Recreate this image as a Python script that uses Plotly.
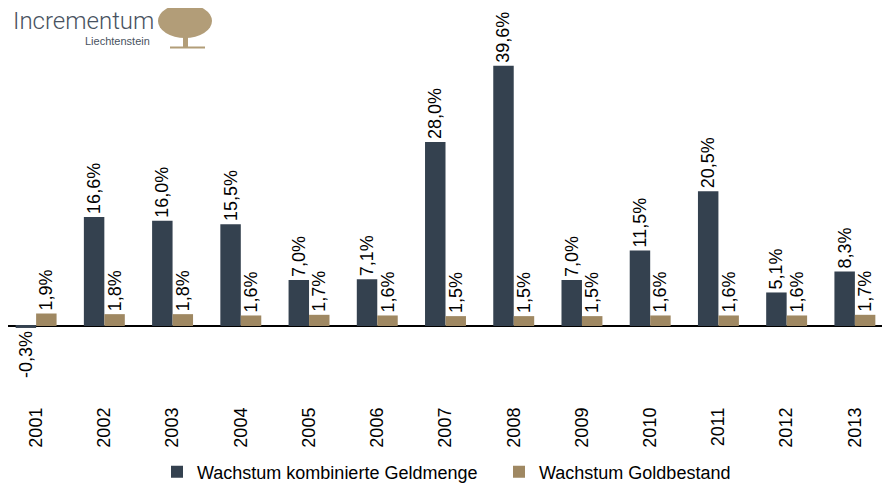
import plotly.graph_objects as go

years = ["2001", "2002", "2003", "2004", "2005", "2006", "2007",
         "2008", "2009", "2010", "2011", "2012", "2013"]
geldmenge = [-0.3, 16.6, 16.0, 15.5, 7.0, 7.1, 28.0, 39.6, 7.0, 11.5, 20.5, 5.1, 8.3]
goldbestand = [1.9, 1.8, 1.8, 1.6, 1.7, 1.6, 1.5, 1.5, 1.5, 1.6, 1.6, 1.6, 1.7]

DARK = "#34414F"
GOLD = "#9F8862"
FONT = "Liberation Sans, Arial, sans-serif"

# the page body has an 8px margin, so the figure is shifted by that much
W, H = 882, 477
ML, MR, MT, MB = 0, 1, 42, 110
OFF = 8


def px(x):
    # page pixel -> paper x
    return (x - OFF - ML) / (W - ML - MR)


def py(y):
    # page pixel -> paper y
    return (H - MB - (y - OFF)) / (H - MT - MB)


fig = go.Figure()
for name, vals, col in [("Wachstum kombinierte Geldmenge", geldmenge, DARK),
                        ("Wachstum Goldbestand", goldbestand, GOLD)]:
    fig.add_trace(go.Bar(
        name=name, x=years, y=vals,
        marker=dict(color=col, line=dict(width=0)),
        texttemplate="%{y:.1f}%", textposition="outside", textangle=-90,
        constraintext="none",
        textfont=dict(size=18, color="#000000", family=FONT), cliponaxis=False,
    ))

# logo
fig.add_annotation(text="Incrementum", xref="paper", yref="paper",
                   x=px(11), y=py(21), xanchor="left", yanchor="middle", height=24,
                   showarrow=False,
                   font=dict(size=24, color="#485260", family="Roboto, sans-serif", weight=300))
fig.add_annotation(text="Liechtenstein", xref="paper", yref="paper",
                   x=px(152), y=py(40.5), xanchor="right", yanchor="middle", height=11,
                   showarrow=False, font=dict(size=11, color="#485260", family=FONT))
tree = "#B29D78"
fig.add_shape(type="circle", xref="paper", yref="paper", x0=px(158), x1=px(212),
              y0=py(38), y1=py(4), fillcolor=tree, line=dict(width=0))
fig.add_shape(type="rect", xref="paper", yref="paper", x0=px(183), x1=px(188),
              y0=py(47), y1=py(30), fillcolor=tree, line=dict(width=0))
fig.add_shape(type="line", xref="paper", yref="paper", x0=px(170), x1=px(205),
              y0=py(47.5), y1=py(47.5), line=dict(color=tree, width=2))

fig.update_layout(
    width=W, height=H,
    margin=dict(l=ML, r=MR, t=MT, b=MB, autoexpand=False),
    paper_bgcolor="white", plot_bgcolor="white",
    barmode="group", bargap=0.4, bargroupgap=0,
    separators=",.",
    font=dict(family=FONT, size=18, color="#000000"),
    showlegend=True,
    legend=dict(orientation="h", x=px(157), xanchor="left", y=py(472), yanchor="middle",
                font=dict(size=18), itemwidth=30, entrywidth=297,
                traceorder="normal"),
    xaxis=dict(range=[-0.412, 12.5], showgrid=False, showline=False, ticks="",
               tickangle=-90, tickfont=dict(size=18), ticklabelstandoff=28,
               automargin=False),
    yaxis=dict(range=[-7.46, 42.0], showgrid=False, showticklabels=False,
               zeroline=True, zerolinecolor="#000000", zerolinewidth=1.5,
               automargin=False),
)

fig.write_html("out.html")
